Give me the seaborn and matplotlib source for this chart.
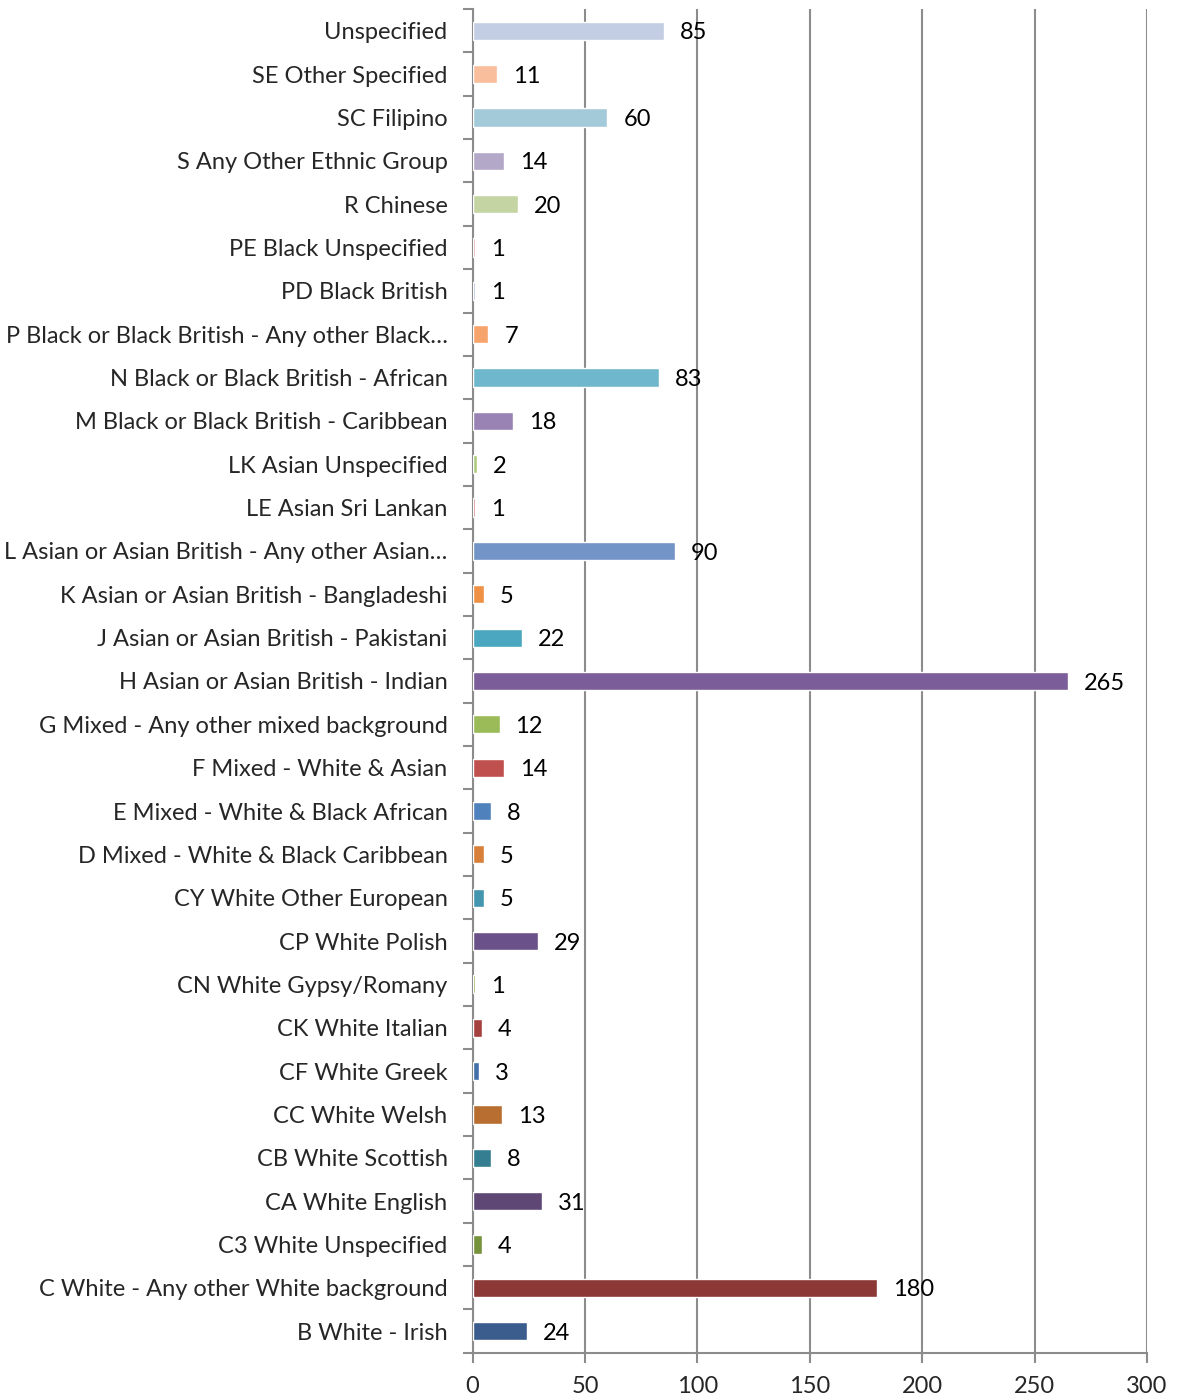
import matplotlib
matplotlib.use('Agg')
import matplotlib.pyplot as plt
import seaborn as sns
import pandas as pd
from matplotlib.ticker import FixedLocator

# Categories from top to bottom, as in the chart
categories = [
    'Unspecified', 'SE Other Specified', 'SC Filipino', 'S Any Other Ethnic Group',
    'R Chinese', 'PE Black Unspecified', 'PD Black British',
    'P Black or Black British - Any other Black\u2026',
    'N Black or Black British - African', 'M Black or Black British - Caribbean',
    'LK Asian Unspecified', 'LE Asian Sri Lankan',
    'L Asian or Asian British - Any other Asian\u2026',
    'K Asian or Asian British - Bangladeshi', 'J Asian or Asian British - Pakistani',
    'H Asian or Asian British - Indian', 'G Mixed - Any other mixed background',
    'F Mixed - White & Asian', 'E Mixed - White & Black African',
    'D Mixed - White & Black Caribbean', 'CY White Other European',
    'CP White Polish', 'CN White Gypsy/Romany', 'CK White Italian',
    'CF White Greek', 'CC White Welsh', 'CB White Scottish', 'CA White English',
    'C3 White Unspecified', 'C White - Any other White background', 'B White - Irish',
]
counts = [85, 11, 60, 14, 20, 1, 1, 7, 83, 18, 2, 1, 90, 5, 22, 265, 12, 14, 8, 5,
          5, 29, 1, 4, 3, 13, 8, 31, 4, 180, 24]
colors = [
    '#C3CDE3', '#F9BE9C', '#A3CAD9', '#B3A8C7', '#C4D5A3', '#DDA0A0', '#A5B7DA',
    '#F7A46C', '#6FB7CC', '#9983B5', '#ADCB7D', '#D27575', '#7394C6', '#EF9145',
    '#4BA6BF', '#7B5E99', '#9BBB59', '#C0504D', '#4F81BD', '#D8803A', '#4396AE',
    '#6B5189', '#8AA54F', '#A5413E', '#4370A8', '#B76E30', '#357E91', '#5E4775',
    '#76923C', '#8B3836', '#3A5D8E',
]
x_ticks = [0, 50, 100, 150, 200, 250, 300]

df = pd.DataFrame({'category': categories, 'count': counts})

sns.set_style('white')
plt.rcParams['font.family'] = ['Lato', 'DejaVu Sans']

fig = plt.figure(figsize=(11.77, 13.99), dpi=100)
ax = fig.add_axes([0.4015, 0.033, 0.573, 0.9605])

sns.barplot(data=df, x='count', y='category', hue='category', palette=colors,
            legend=False, width=0.42, ax=ax, saturation=1, zorder=3)

for i, v in enumerate(counts):
    ax.annotate(str(v), xy=(v, i), xytext=(11.5, -1.5), textcoords='offset points',
                ha='left', va='center', fontsize=17, color='black')

ax.set_xlim(0, 300)
ax.set_ylim(len(categories) - 0.5, -0.5)
ax.set_xticks(x_ticks)
ax.set_xlabel('')
ax.set_ylabel('')

ax.grid(axis='x', color='#8c8c8c', linewidth=1.5)
ax.set_axisbelow(True)

for side in ['top', 'right']:
    ax.spines[side].set_visible(False)
for side in ['left', 'bottom']:
    ax.spines[side].set_color('#8c8c8c')
    ax.spines[side].set_linewidth(1.5)
    ax.spines[side].set_zorder(2)

ax.yaxis.set_minor_locator(FixedLocator([i - 0.5 for i in range(len(categories) + 1)]))
ax.tick_params(axis='y', which='major', length=0, labelsize=17, pad=18)
ax.tick_params(axis='y', which='minor', length=7, width=1.5, color='#8c8c8c', left=True)
ax.tick_params(axis='x', which='major', length=7, width=1.5, color='#8c8c8c',
               bottom=True, labelsize=17, pad=10)

fig.savefig('out.png', dpi=100)
